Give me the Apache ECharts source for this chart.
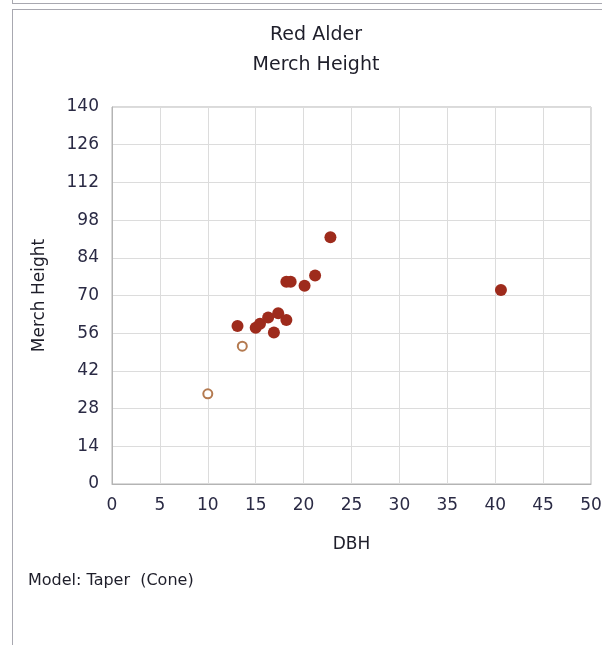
<!DOCTYPE html>
<html>
<head>
<meta charset="utf-8">
<script src="https://cdn.jsdelivr.net/npm/echarts@6/dist/echarts.min.js"></script>
<style>
html,body{margin:0;padding:0;background:#fff;}
#c{width:602px;height:645px;}
</style>
</head>
<body>
<div id="c"></div>
<script>
const titleLines = ['Red Alder', 'Merch Height'];
const xAxisName = 'DBH';
const yAxisName = 'Merch Height';
const footnote = 'Model: Taper  (Cone)';
const xMin = 0, xMax = 50, xStep = 5;
const yMin = 0, yMax = 140, yStep = 14;

// measured trees (filled)
const measuredDBH =    [13.1, 15.0, 15.45, 16.3, 17.35, 16.9, 18.2, 18.2, 18.65, 20.1, 21.2, 22.8, 40.6];
const measuredHeight = [58.7, 58.0, 59.5,  61.8, 63.4,  56.3, 60.9, 75.1, 75.1,  73.6, 77.4, 91.6, 72.0];
// estimated trees (hollow)
const estimatedDBH =    [13.6, 10.0];
const estimatedHeight = [51.2, 33.5];

const FONT = 'DejaVu Sans';
const chart = echarts.init(document.getElementById('c'), null, {renderer: 'canvas'});

const zip = (a, b) => a.map((v, i) => [v, b[i]]);

chart.setOption({
  animation: false,
  backgroundColor: '#fff',
  title: {
    text: titleLines.join('\n'),
    left: 311, top: 15, textAlign: 'center',
    textStyle: {fontFamily: FONT, fontSize: 19, fontWeight: 'normal', color: '#1e1e2a', lineHeight: 30}
  },
  grid: {left: 112, top: 107, right: 11, bottom: 161, show: true, borderColor: '#b4b4b4', borderWidth: 1,
         containLabel: false, outerBoundsMode: 'none'},
  xAxis: {
    type: 'value', min: xMin, max: xMax, interval: xStep,
    name: xAxisName, nameLocation: 'middle', nameGap: 52,
    nameTextStyle: {fontFamily: FONT, fontSize: 17, color: '#1e1e2a'},
    axisLine: {show: true, lineStyle: {color: '#b4b4b4'}},
    axisTick: {show: false},
    axisLabel: {fontFamily: FONT, fontSize: 17, color: '#2a2a44', margin: 13, hideOverlap: false},
    splitLine: {show: true, lineStyle: {color: '#dcdcdc'}}
  },
  yAxis: {
    type: 'value', min: yMin, max: yMax, interval: yStep,
    name: yAxisName, nameLocation: 'middle', nameGap: 64, nameRotate: 90,
    nameTextStyle: {fontFamily: FONT, fontSize: 17, color: '#1e1e2a'},
    axisLine: {show: true, lineStyle: {color: '#b4b4b4'}},
    axisTick: {show: false},
    axisLabel: {fontFamily: FONT, fontSize: 17, color: '#2a2a44', margin: 13},
    splitLine: {show: true, lineStyle: {color: '#dcdcdc'}}
  },
  series: [
    {
      type: 'scatter', data: zip(measuredDBH, measuredHeight),
      symbol: 'circle', symbolSize: 12,
      itemStyle: {color: '#9e2b1c', opacity: 1}
    },
    {
      type: 'scatter', data: zip(estimatedDBH, estimatedHeight),
      symbol: 'circle', symbolSize: 9,
      itemStyle: {color: '#ffffff', borderColor: '#b47a50', borderWidth: 2, opacity: 1}
    }
  ],
  graphic: [
    {type: 'line', shape: {x1: 12.5, y1: 0, x2: 12.5, y2: 3}, style: {stroke: '#a8a8b0', lineWidth: 1}},
    {type: 'line', shape: {x1: 12, y1: 3.5, x2: 602, y2: 3.5}, style: {stroke: '#a8a8b0', lineWidth: 1}},
    {type: 'line', shape: {x1: 12, y1: 9.5, x2: 602, y2: 9.5}, style: {stroke: '#a8a8b0', lineWidth: 1}},
    {type: 'line', shape: {x1: 12.5, y1: 9, x2: 12.5, y2: 645}, style: {stroke: '#a8a8b0', lineWidth: 1}},
    {type: 'text', left: 28, top: 573, style: {text: footnote, font: '16px "DejaVu Sans"', fill: '#1e1e2a'}}
  ]
});
</script>
</body>
</html>
